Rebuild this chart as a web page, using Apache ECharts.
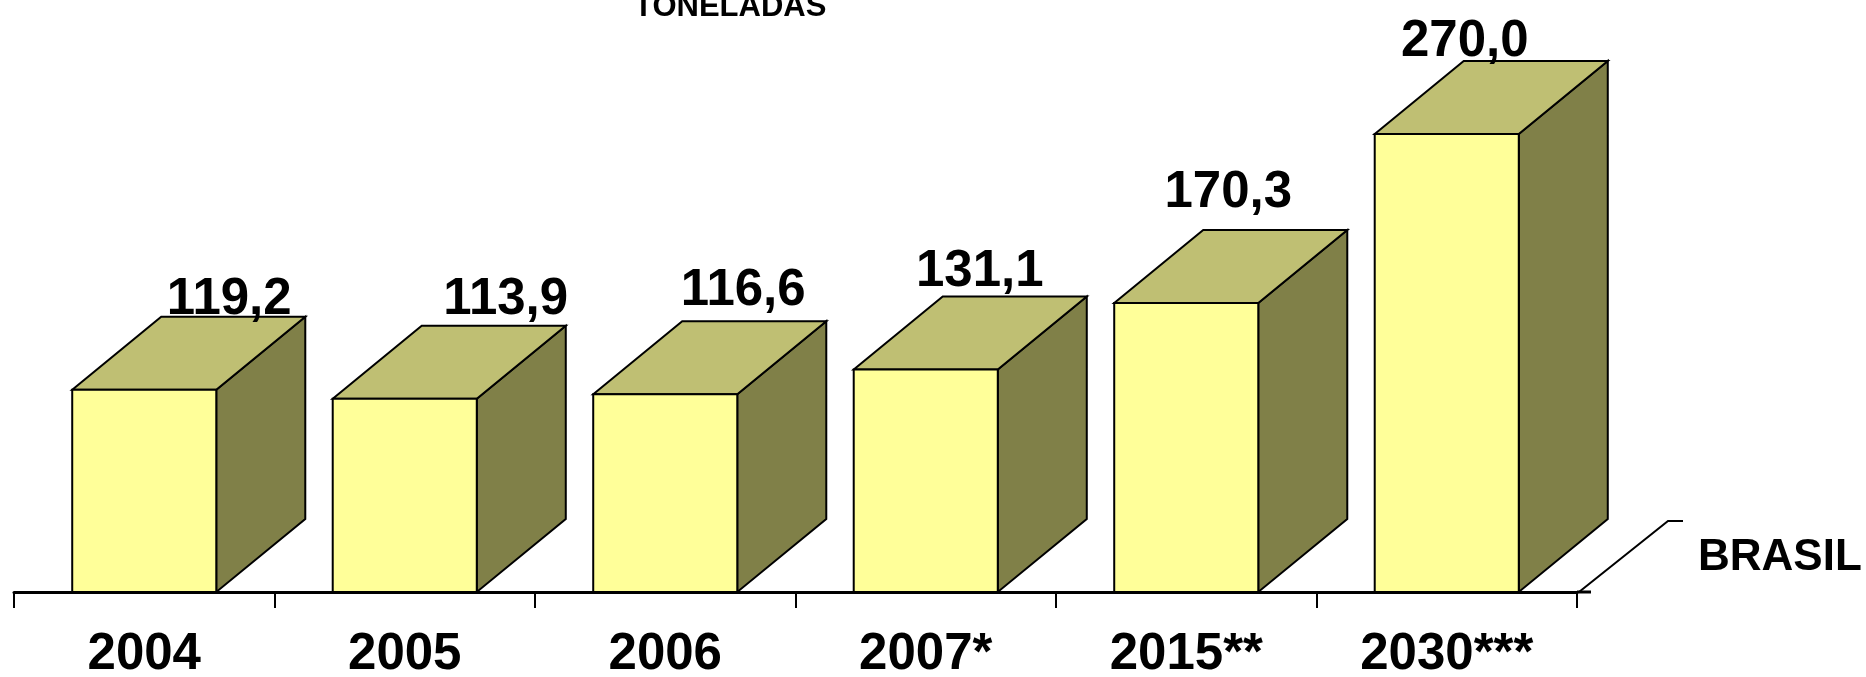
<!DOCTYPE html>
<html>
<head>
<meta charset="utf-8">
<title>Toneladas - Brasil</title>
<script src="https://cdn.jsdelivr.net/npm/echarts@6/dist/echarts.min.js"></script>
<style>
  html, body { margin: 0; padding: 0; background: #fff; }
  #chart { width: 1866px; height: 677px; }
</style>
</head>
<body>
<div id="chart"></div>
<script>
const categories = ['2004', '2005', '2006', '2007*', '2015**', '2030***'];
const values = [119.2, 113.9, 116.6, 131.1, 170.3, 270.0];
const seriesName = 'BRASIL';
const unitTitle = 'TONELADAS';

// layout: 3D box depth, and per-label nudges (pixels)
const DEPTH_X = 89;
const DEPTH_Y = -73;
const BAR_RATIO = 0.553;
const labelShiftX = [85, 101, 78, 54, 42, 18];
const labelLift = [2, 11, 15, 10, 22, 4];

const FONT = '"Liberation Sans", Arial, sans-serif';
const FRONT = '#FFFF99';
const TOP = '#BFBF73';
const SIDE = '#808048';

const fmt = (v) => v.toFixed(1).replace('.', ',');

const chart = echarts.init(document.getElementById('chart'));

const renderBox = (params, api) => {
  const i = api.value(0);
  const v = api.value(1);
  const base = api.coord([i, 0]);
  const top = api.coord([i, v]);
  const band = api.size([1, 0])[0];
  const w = band * BAR_RATIO;
  const x0 = base[0] - w / 2;
  const x1 = base[0] + w / 2;
  const yt = top[1];
  const yb = base[1];
  const stroke = { stroke: '#000', lineWidth: 2, lineJoin: 'miter' };
  return {
    type: 'group',
    children: [
      {
        type: 'polygon',
        shape: { points: [[x1, yt], [x1 + DEPTH_X, yt + DEPTH_Y], [x1 + DEPTH_X, yb + DEPTH_Y], [x1, yb]] },
        style: Object.assign({ fill: SIDE }, stroke)
      },
      {
        type: 'polygon',
        shape: { points: [[x0, yt], [x0 + DEPTH_X, yt + DEPTH_Y], [x1 + DEPTH_X, yt + DEPTH_Y], [x1, yt]] },
        style: Object.assign({ fill: TOP }, stroke)
      },
      {
        type: 'rect',
        shape: { x: x0, y: yt, width: w, height: yb - yt },
        style: Object.assign({ fill: FRONT }, stroke)
      },
      {
        type: 'text',
        style: {
          text: fmt(v),
          x: base[0] + labelShiftX[params.dataIndex],
          y: yt + DEPTH_Y - labelLift[params.dataIndex] - 15,
          align: 'center',
          verticalAlign: 'middle',
          font: 'bold 51px ' + FONT,
          fill: '#000'
        }
      }
    ]
  };
};

// depth axis at the right end of the category axis
const renderDepthAxis = (params) => {
  const cs = params.coordSys;
  const xr = cs.x + cs.width;
  const yb = cs.y + cs.height;
  return {
    type: 'group',
    children: [
      {
        type: 'line',
        shape: { x1: xr, y1: yb, x2: xr + 14, y2: yb },
        style: { stroke: '#000', lineWidth: 3 }
      },
      {
        type: 'polyline',
        shape: { points: [[xr + 2, yb], [xr + 2 + DEPTH_X, yb + DEPTH_Y + 2], [xr + 2 + DEPTH_X + 15, yb + DEPTH_Y + 2]] },
        style: { stroke: '#000', lineWidth: 2, fill: null }
      }
    ]
  };
};

chart.setOption({
  animation: false,
  backgroundColor: '#fff',
  grid: { left: 14, right: 289, top: 83, bottom: 85, containLabel: false, outerBoundsMode: 'none' },
  xAxis: {
    type: 'category',
    data: categories,
    axisLine: { lineStyle: { color: '#000', width: 3 } },
    axisTick: { show: true, length: 16, lineStyle: { color: '#000', width: 2 } },
    axisLabel: {
      color: '#000',
      fontFamily: FONT,
      fontWeight: 'bold',
      fontSize: 51,
      margin: 37
    }
  },
  yAxis: {
    type: 'value',
    min: 0,
    max: 300,
    show: false
  },
  graphic: [
    {
      type: 'text',
      left: 634,
      top: -8,
      style: { text: unitTitle, font: 'bold 31px ' + FONT, fill: '#000' }
    },
    {
      type: 'text',
      left: 1698,
      top: 536,
      style: { text: seriesName, font: 'bold 44px ' + FONT, fill: '#000' }
    }
  ],
  series: [
    {
      name: seriesName,
      type: 'custom',
      renderItem: renderBox,
      clip: false,
      data: values.map((v, i) => [i, v])
    },
    {
      type: 'custom',
      renderItem: renderDepthAxis,
      clip: false,
      silent: true,
      data: [[0]]
    }
  ]
});

window.addEventListener('resize', () => chart.resize());
</script>
</body>
</html>
